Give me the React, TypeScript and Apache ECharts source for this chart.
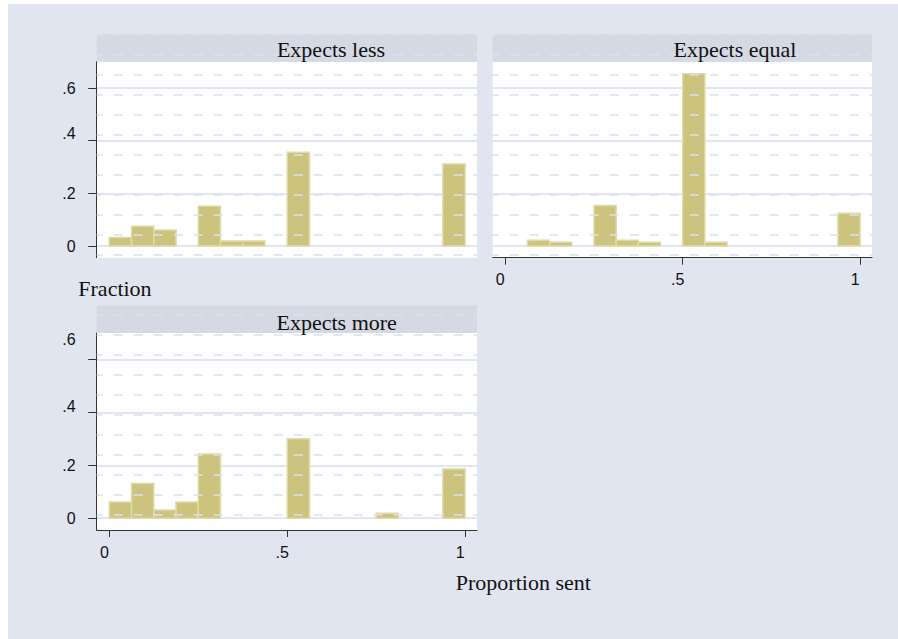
import React, { useEffect, useRef } from "react";
import * as echarts from "echarts";

// Histogram bins are 1/16 wide; each bin is listed by its index.
const binWidth = 1 / 16;

const lessBins = [0, 1, 2, 4, 5, 6, 8, 15];
const lessFraction = [0.032, 0.075, 0.061, 0.151, 0.019, 0.019, 0.356, 0.311];

const equalBins = [1, 2, 4, 5, 6, 8, 9, 15];
const equalFraction = [0.022, 0.014, 0.154, 0.022, 0.014, 0.654, 0.014, 0.124];

const moreBins = [0, 1, 2, 3, 4, 8, 12, 15];
const moreFraction = [0.061, 0.131, 0.031, 0.061, 0.243, 0.3, 0.019, 0.186];

const panelTitles = ["Expects less", "Expects equal", "Expects more"];

const xTickValues = [0, 0.5, 1];
const xTickLabels = ["0", ".5", "1"];
const yTickValues = [0, 0.2, 0.4, 0.6];
const yTickLabels = ["0", ".2", ".4", ".6"];

const yAxisTitle = "Fraction";
const xAxisTitle = "Proportion sent";

const SANS = "'Liberation Sans', Arial, Helvetica, sans-serif";
const SERIF = "'Liberation Serif', 'Times New Roman', Times, serif";

const BAR_FILL = "#cbc37e";
const BAR_EDGE = "#e0daa6";
const STRIP = "#d4d9e4";
const GRIDLINE = "#e2e6f0";
const AXIS = "#333333";
const HATCH = "#dde1ed";
const TICK_FONT = 16;

const X_MIN = -0.0355;
const X_MAX = 1.0335;
const Y_MIN = -0.0444;
const Y_MAX = 0.7;

type Panel = {
  left: number;
  top: number;
  width: number;
  height: number;
  showX: boolean;
  showY: boolean;
  titleX: number;
  titleY: number;
  // vertical nudges (px, upward) for individual y tick labels
  labelLift: number[];
};

const panels: Panel[] = [
  { left: 96.7, top: 61.7, width: 380.3, height: 196, showX: false, showY: true, titleX: 331, titleY: 49.3, labelLift: [0, 0, 7, 0] },
  { left: 492.7, top: 61.7, width: 379.3, height: 196, showX: true, showY: false, titleX: 735, titleY: 49.3, labelLift: [0, 0, 0, 0] },
  { left: 96.7, top: 333, width: 380.3, height: 197, showX: true, showY: true, titleX: 336.7, titleY: 322, labelLift: [0, 0, 6, 20] },
];

const STRIP_H = 27.5;

function toRows(bins: number[], values: number[]) {
  return bins.map((b, i) => [b * binWidth, (b + 1) * binWidth, values[i]]);
}

const seriesData = [
  toRows(lessBins, lessFraction),
  toRows(equalBins, equalFraction),
  toRows(moreBins, moreFraction),
];

const renderBar = (_params: any, api: any) => {
  const top = api.coord([api.value(0), api.value(2)]);
  const base = api.coord([api.value(1), 0]);
  return {
    type: "rect",
    shape: { x: top[0], y: top[1], width: base[0] - top[0], height: base[1] - top[1] },
    style: { fill: BAR_FILL, stroke: BAR_EDGE, lineWidth: 1.5 },
  };
};

function buildOption() {
  const grid = panels.map((p) => ({
    left: p.left,
    top: p.top,
    width: p.width,
    height: p.height,
    show: true,
    backgroundColor: "#ffffff",
    borderWidth: 0,
    containLabel: false,
  }));

  const xAxis = panels.map((p, i) => ({
    type: "value",
    gridIndex: i,
    min: X_MIN,
    max: X_MAX,
    axisLine: { show: p.showX, onZero: false, lineStyle: { color: AXIS, width: 1 } },
    axisTick: { show: p.showX, length: 7, customValues: xTickValues, lineStyle: { color: AXIS } },
    axisLabel: {
      show: p.showX,
      customValues: xTickValues,
      margin: 14,
      fontFamily: SANS,
      fontSize: TICK_FONT,
      color: "#111",
      padding: [0, 10, 0, 0],
      formatter: (v: number) => {
        const k = xTickValues.findIndex((t) => Math.abs(t - v) < 1e-9);
        return k >= 0 ? xTickLabels[k] : "";
      },
    },
    splitLine: { show: false },
  }));

  const yAxis = panels.map((p, i) => {
    const rich: Record<string, any> = {};
    p.labelLift.forEach((lift, k) => {
      rich["t" + k] = {
        fontFamily: SANS,
        fontSize: TICK_FONT,
        color: "#111",
        padding: [0, 0, lift * 2, 0],
      };
    });
    return {
      type: "value",
      gridIndex: i,
      min: Y_MIN,
      max: Y_MAX,
      axisLine: { show: p.showY, onZero: false, lineStyle: { color: AXIS, width: 1 } },
      axisTick: { show: p.showY, length: 8.5, customValues: yTickValues, lineStyle: { color: AXIS } },
      axisLabel: {
        show: p.showY,
        customValues: yTickValues,
        margin: 21,
        fontFamily: SANS,
        fontSize: TICK_FONT,
        color: "#111",
        rich,
        formatter: (v: number) => {
          const k = yTickValues.findIndex((t) => Math.abs(t - v) < 1e-9);
          return k >= 0 ? `{t${k}|${yTickLabels[k]}}` : "";
        },
      },
      splitLine: { show: true, lineStyle: { color: GRIDLINE, width: 2 } },
    };
  });

  const series = seriesData.map((rows, i) => ({
    type: "custom",
    xAxisIndex: i,
    yAxisIndex: i,
    renderItem: renderBar,
    encode: { x: [0, 1], y: 2 },
    data: rows,
    z: 3,
  }));

  const graphic: any[] = [];

  panels.forEach((p, i) => {
    graphic.push({
      type: "rect",
      silent: true,
      z: 1,
      shape: { x: p.left, y: p.top - STRIP_H, width: p.width, height: STRIP_H },
      style: { fill: STRIP },
    });
    graphic.push({
      type: "text",
      silent: true,
      z: 50,
      x: p.titleX,
      y: p.titleY,
      style: {
        text: panelTitles[i],
        fontFamily: SERIF,
        fontSize: 22,
        fill: "#111",
        align: "center",
        verticalAlign: "middle",
      },
    });
    // faint dashed hatching that runs across the strip and plot region
    const y0 = p.top - STRIP_H;
    const y1 = p.top + p.height;
    for (let y = 35; y <= y1 - 2; y += 20) {
      if (y < y0) continue;
      graphic.push({
        type: "line",
        silent: true,
        z: 40,
        shape: { x1: p.left, y1: y, x2: p.left + p.width, y2: y },
        style: { stroke: HATCH, lineWidth: 1.5, lineDash: [9, 11], lineDashOffset: 3 },
      });
    }
  });

  graphic.push({
    type: "text",
    silent: true,
    z: 50,
    x: 78.3,
    y: 288.6,
    style: { text: yAxisTitle, fontFamily: SERIF, fontSize: 22, fill: "#111", align: "left", verticalAlign: "middle" },
  });
  graphic.push({
    type: "text",
    silent: true,
    z: 50,
    x: 523.3,
    y: 582,
    style: { text: xAxisTitle, fontFamily: SERIF, fontSize: 22, fill: "#111", align: "center", verticalAlign: "middle" },
  });

  return {
    animation: false,
    backgroundColor: "transparent",
    grid,
    xAxis,
    yAxis,
    series,
    graphic,
  };
}

export default function App() {
  const ref = useRef<HTMLDivElement>(null);

  useEffect(() => {
    if (!ref.current) return;
    const chart = echarts.init(ref.current, undefined, { renderer: "svg" });
    chart.setOption(buildOption() as any);
    return () => chart.dispose();
  }, []);

  return (
    <div style={{ position: "fixed", left: 0, top: 0, width: 898, height: 639, background: "#ffffff" }}>
      <div style={{ position: "absolute", left: 8, top: 4, width: 890, height: 635, background: "#e1e5f0" }} />
      <div ref={ref} style={{ position: "absolute", left: 0, top: 0, width: 898, height: 639 }} />
    </div>
  );
}
